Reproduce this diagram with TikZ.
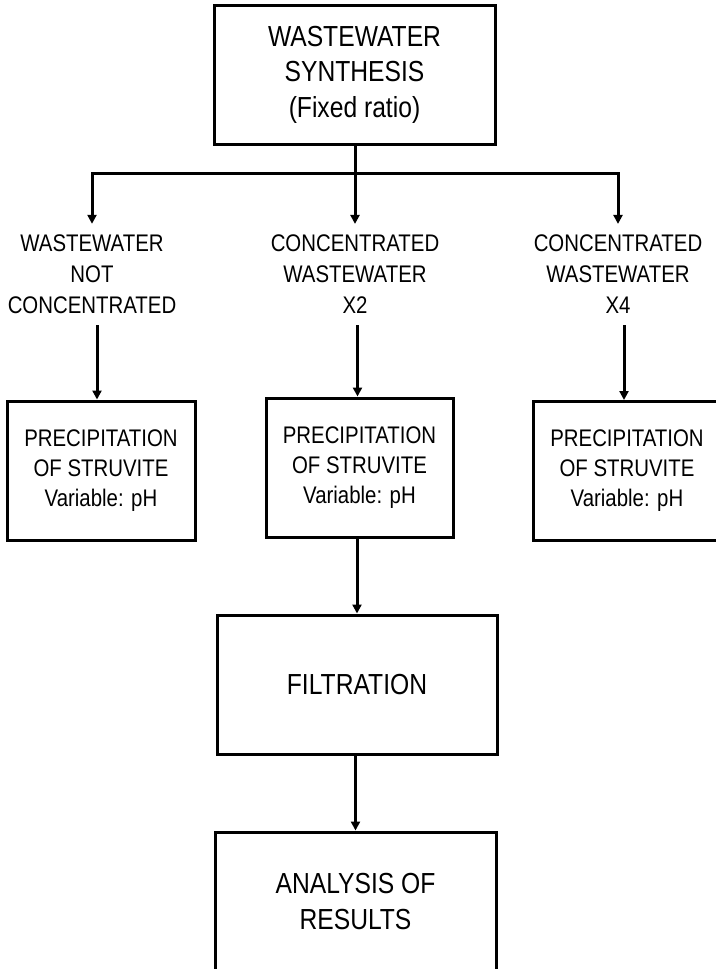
\documentclass[tikz,border=0pt]{standalone}
\usepackage{fontspec}
\setmainfont{Liberation Sans}[FakeStretch=0.85]
\usetikzlibrary{arrows.meta}
\tikzset{
  bigbox/.style={draw, line width=3pt, align=center, minimum width=281pt, minimum height=139pt, inner sep=0pt,
    font=\fontsize{29}{35.5}\selectfont},
  precbox/.style={draw, line width=3pt, align=center, minimum width=188pt, minimum height=139pt, inner sep=0pt,
    font=\fontsize{24}{30}\selectfont},
  lab/.style={align=center, inner xsep=0pt, inner ysep=11pt, font=\fontsize{24}{31}\selectfont},
  conn/.style={line width=3pt},
  arr/.style={line width=3pt, -{Triangle[width=9pt,length=9pt]}}
}
\begin{document}
\begin{tikzpicture}[x=1pt,y=-1pt]
\useasboundingbox (0,0) rectangle (715,969);
\node[bigbox] (top) at (354.5,74.5) {WASTEWATER\\SYNTHESIS\\(Fixed ratio)};
\node[lab] (lab1) at (92,274.5) {WASTEWATER\\NOT\\CONCENTRATED};
\node[lab] (lab2) at (355,274.5) {CONCENTRATED\\WASTEWATER\\X2};
\node[lab] (lab3) at (618,274.5) {CONCENTRATED\\WASTEWATER\\X4};
\node[precbox] (box1) at (101,470.5) {PRECIPITATION\\OF STRUVITE\\Variable: pH};
\node[precbox, minimum width=187pt] (box2) at (359.5,467.5) {PRECIPITATION\\OF STRUVITE\\Variable: pH};
\node[precbox] (box3) at (627,471) {PRECIPITATION\\OF STRUVITE\\Variable: pH};
\node[bigbox, minimum width=280pt] (filt) at (357,684.5) {FILTRATION};
\node[bigbox] (ana) at (355.5,901.5) {ANALYSIS OF\\RESULTS};
\coordinate (j) at (355,173);
\draw[conn] (top.south -| j) -- (j);
\draw[arr] (j) -| (lab1.north);
\draw[arr] (j) -- (j |- lab2.north);
\draw[arr] (j) -| (lab3.north);
\draw[arr] ([xshift=-4pt]box1.north |- lab1.south) -- ([xshift=-4pt]box1.north);
\draw[arr] ([xshift=-2pt]box2.north |- lab2.south) -- ([xshift=-2pt]box2.north);
\draw[arr] ([xshift=-3pt]box3.north |- lab3.south) -- ([xshift=-3pt]box3.north);
\draw[arr] (box2.south -| filt.north) -- (filt.north);
\draw[arr] (filt.south -| ana.north) -- (ana.north);
\end{tikzpicture}
\end{document}
